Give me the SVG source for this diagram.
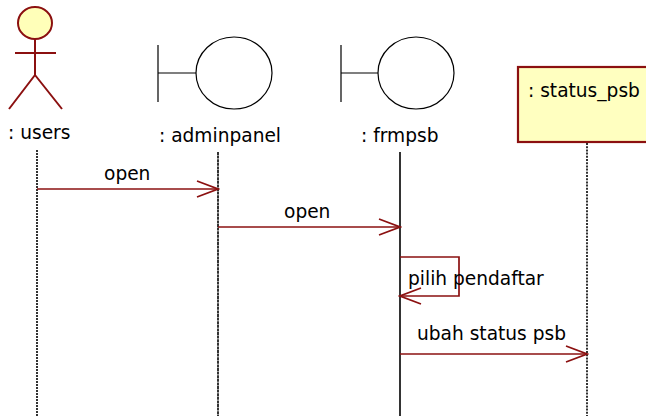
<svg xmlns="http://www.w3.org/2000/svg" width="646" height="416" viewBox="0 0 646 416">
<style>
text{font-family:"DejaVu Sans",sans-serif;font-size:18.6px;fill:#000}
.life{stroke:#000;stroke-width:1.6;fill:none}
.msg{stroke:#8B1010;stroke-width:1.7;fill:none}
.bnd{stroke:#000;stroke-width:1.2;fill:none}
.actor{stroke:#8B1010;stroke-width:2;fill:none}
</style>
<defs>
<marker id="open" markerWidth="24" markerHeight="20" refX="22" refY="9" orient="auto" markerUnits="userSpaceOnUse">
<path d="M1,1 L22,9 L1,17" fill="none" stroke="#8B1010" stroke-width="1.7"/>
</marker>
</defs>
<rect width="646" height="416" fill="#fff"/>
<g id="users">
<ellipse cx="35" cy="23" rx="17" ry="16" fill="#FFFFB9" stroke="#8B1010" stroke-width="2"/>
<path class="actor" d="M35,39 V75 M15,53 H56 M35,75 L9,109 M35,75 L62,109"/>
<text x="8" y="139">: users</text>
<line class="life" x1="37" y1="150" x2="37" y2="416" stroke-dasharray="2,1"/>
</g>
<g id="adminpanel">
<path class="bnd" d="M158,45 V102 M158,73 H196"/>
<ellipse class="bnd" cx="234" cy="73" rx="38" ry="36"/>
<text x="159" y="142">: adminpanel</text>
<line class="life" x1="218" y1="152" x2="218" y2="416" stroke-dasharray="3,0.6"/>
</g>
<g id="frmpsb">
<path class="bnd" d="M341,45 V102 M341,73 H378"/>
<ellipse class="bnd" cx="416" cy="73" rx="38" ry="36"/>
<text x="361" y="142">: frmpsb</text>
<line class="life" x1="400" y1="152" x2="400" y2="416" stroke-width="2"/>
</g>
<g id="status_psb">
<rect x="518" y="67" width="150" height="75" fill="#FFFFC0" stroke="#8B1010" stroke-width="2.2"/>
<text x="528" y="97">: status_psb</text>
<line class="life" x1="587" y1="143" x2="587" y2="416" stroke-dasharray="2,1.2"/>
</g>
<g id="connectors">
<line class="msg" x1="37" y1="189" x2="218" y2="189" marker-end="url(#open)"/>
<text x="104" y="180">open</text>
<line class="msg" x1="218" y1="227" x2="400" y2="227" marker-end="url(#open)"/>
<text x="284" y="218">open</text>
<path class="msg" d="M400,257 H459 V296 H400" marker-end="url(#open)"/>
<text x="408" y="285">pilih pendaftar</text>
<line class="msg" x1="400" y1="354" x2="587" y2="354" marker-end="url(#open)"/>
<text x="417" y="340">ubah status psb</text>
</g>
</svg>
